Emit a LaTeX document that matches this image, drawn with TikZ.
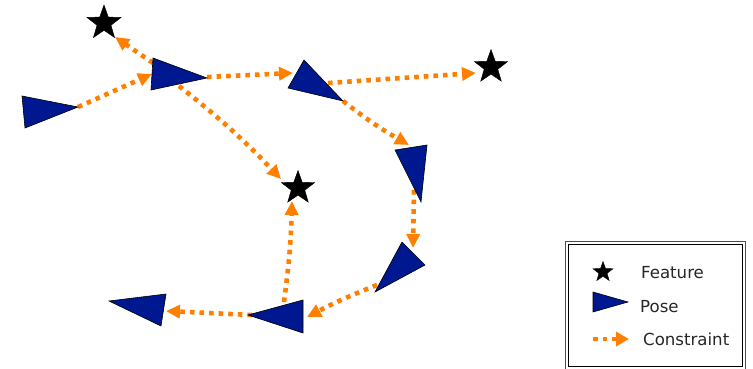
\documentclass[tikz,border=0pt]{standalone}
\usepackage{fontspec}
\setmainfont{DejaVu Sans}
\usetikzlibrary{arrows.meta,shapes.geometric}
\definecolor{posefill}{RGB}{0,24,143}
\definecolor{constr}{RGB}{255,128,0}
\tikzset{
  feature/.style={star, star points=5, star point ratio=2.45, fill=black, draw=black, line width=0.4pt, inner sep=0pt, minimum size=#1},
  posetri/.style={fill=posefill, draw=black, line width=0.6pt, line join=miter},
  constraint/.style={draw=constr, line width=4.6pt, line cap=butt, dash pattern=on 4.6pt off 5pt, -{Triangle[length=14pt,width=13pt]}},
  legtext/.style={anchor=base west, inner sep=0pt, font=\fontsize{16.6}{18}\selectfont, text=black!85},
}
\begin{document}
\begin{tikzpicture}[x=1pt,y=-1pt]
\useasboundingbox (0,0) rectangle (753,368);

% features
\node[feature=36pt] (f1) at (104,23) {};
\node[feature=35pt] (f2) at (491,67) {};
\node[feature=35pt] (f3) at (298,188) {};

% connector end points
\coordinate (a1s) at (78,107);  \coordinate (a1e) at (152,74);
\coordinate (a2s) at (153,63);  \coordinate (a2e) at (115,37);
\coordinate (a3s) at (207,77);  \coordinate (a3e) at (293,73);
\coordinate (a4s) at (179,86);  \coordinate (a4e) at (281,179);
\coordinate (a5s) at (328,83);  \coordinate (a5e) at (476,73);
\coordinate (a6s) at (343,101); \coordinate (a6e) at (409,145);
\coordinate (a7s) at (414,190); \coordinate (a7e) at (413,248);
\coordinate (a8s) at (377,285); \coordinate (a8e) at (307,317);
\coordinate (a9s) at (284,302); \coordinate (a9e) at (292,201);
\coordinate (a10s) at (252,315); \coordinate (a10e) at (166,311);

% constraints
\draw[constraint] (a1s) -- (a1e);
\draw[constraint] (a2s) -- (a2e);
\draw[constraint] (a3s) -- (a3e);
\draw[constraint] (a4s) to[bend left=4] (a4e);
\draw[constraint] (a5s) -- (a5e);
\draw[constraint] (a6s) to[bend right=4] (a6e);
\draw[constraint] (a7s) -- (a7e);
\draw[constraint] (a8s) to[bend right=3] (a8e);
\draw[constraint] (a9s) to[bend right=3] (a9e);
\draw[constraint] (a10s) -- (a10e);

% poses
\draw[posetri] (22,96) coordinate (p1a) -- (25,128) -- (78,107) -- cycle;
\draw[posetri] (153,58) coordinate (p2a) -- (151,90) -- (207,78) -- cycle;
\draw[posetri] (304,60) coordinate (p3a) -- (288,88) -- (343,101) -- cycle;
\draw[posetri] (395,150) coordinate (p4a) -- (427,145) -- (421,202) -- cycle;
\draw[posetri] (402,242) coordinate (p5a) -- (425,265) -- (375,292) -- cycle;
\draw[posetri] (303,300) coordinate (p6a) -- (303,333) -- (248,315) -- cycle;
\draw[posetri] (166,294) coordinate (p7a) -- (161,326) -- (109,301) -- cycle;

% legend
\draw[line width=1pt, draw=black!70] (565,241) rectangle (745,369);
\draw[line width=1pt, draw=black] (568,244) rectangle (742,366);
\node[feature=21pt] (lf) at (603,272) {};
\node[legtext] (lft) at (641,278) {Feature};
\draw[posetri] (593,292) coordinate (lp) -- (593,312) -- (628,302) -- cycle;
\node[legtext] (lpt) at (640,312) {Pose};
\coordinate (lcs) at (593,339); \coordinate (lce) at (629,339);
\draw[constraint, -{Triangle[length=13pt,width=14pt]}] (lcs) -- (lce);
\node[legtext] (lct) at (643,345) {Constraint};
\end{tikzpicture}
\end{document}
